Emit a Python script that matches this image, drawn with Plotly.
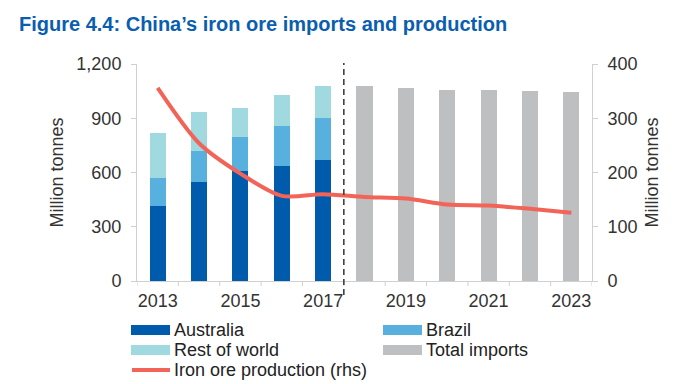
import plotly.graph_objects as go

years = [str(y) for y in range(2013, 2024)]
hist_years = years[:5]
fcst_years = years[5:]
australia = [414, 548, 609, 637, 669]
brazil = [156, 173, 188, 218, 230]
rest_of_world = [251, 213, 158, 172, 178]
total_imports = [1077, 1068, 1059, 1055, 1051, 1044]
production = [356, 254, 198, 157, 160, 155, 152, 141, 139, 133, 126]
left_ticks = [0, 300, 600, 900, 1200]
right_ticks = [0, 100, 200, 300, 400]
xtick_labels = ["2013", "2015", "2017", "2019", "2021", "2023"]

C_AUS = "#005BAC"
C_BRA = "#57B0DD"
C_ROW = "#A0D9E0"
C_TOT = "#BDBFC1"
C_PROD = "#F26457"

# page body has an 8px margin; work in screen pixels and offset
OFF = 8
SW, SH = 693, 384
W, H = SW - OFF, SH - OFF
PL, PR, PT, PB = 137, 592, 64, 281   # plot area in screen px
L, R, T, B = PL - OFF, W - (PR - OFF), PT - OFF, H - (PB - OFF)
PW, PH = W - L - R, H - T - B

def px_x(x):
    return (x - OFF - L) / PW

def px_y(y):
    return (H - B - (y - OFF)) / PH

FONT = "Liberation Sans, Arial, sans-serif"

fig = go.Figure()
bw = 0.39
fig.add_bar(x=hist_years, y=australia, name="Australia", marker_color=C_AUS, width=bw, showlegend=False)
fig.add_bar(x=hist_years, y=brazil, name="Brazil", marker_color=C_BRA, width=bw, showlegend=False)
fig.add_bar(x=hist_years, y=rest_of_world, name="Rest of world", marker_color=C_ROW, width=bw, showlegend=False)
fig.add_bar(x=fcst_years, y=total_imports, name="Total imports", marker_color=C_TOT, width=bw, showlegend=False)
fig.add_scatter(x=years, y=production, yaxis="y2", mode="lines", name="Iron ore production (rhs)",
                line=dict(color=C_PROD, width=4, shape="spline", smoothing=0.8), showlegend=False)

fig.update_traces(marker_line_width=0, selector=dict(type="bar"))

axis_col = "#D0D0D0"
tick_font = dict(family=FONT, size=18, color="#333333")

fig.update_layout(
    width=W, height=H,
    margin=dict(l=L, r=R, t=T, b=B),
    barmode="stack",
    plot_bgcolor="white", paper_bgcolor="white",
    title=dict(text="<b>Figure 4.4: China’s iron ore imports and production</b>",
               x=(19 - OFF) / W, xanchor="left", y=1 - (24 - OFF) / H, yanchor="middle",
               font=dict(family=FONT, size=20, color="#0A5EB0")),
    xaxis=dict(type="category", categoryorder="array", categoryarray=years,
               tickmode="array", tickvals=xtick_labels, ticktext=xtick_labels,
               showline=True, linecolor=axis_col, linewidth=1, showgrid=False,
               ticks="", tickfont=tick_font, ticklabelstandoff=3,
               range=[-0.5, 10.5]),
    yaxis=dict(range=[0, 1200], tickvals=left_ticks, tickformat=",",
               showline=True, linecolor=axis_col, linewidth=1, showgrid=False, zeroline=False,
               ticks="outside", ticklen=5, tickcolor=axis_col, tickfont=tick_font,
               ticklabelstandoff=6,
               title=dict(text="Million tonnes", font=tick_font, standoff=8)),
    yaxis2=dict(range=[0, 400], tickvals=right_ticks, overlaying="y", side="right",
                showline=True, linecolor=axis_col, linewidth=1, showgrid=False, zeroline=False,
                ticks="outside", ticklen=5, tickcolor=axis_col, tickfont=tick_font,
                ticklabelstandoff=6,
                title=dict(text="Million tonnes", font=tick_font, standoff=8)),
)

# x-axis tick marks at category boundaries
for i in range(len(years) + 1):
    fig.add_shape(type="line", xref="x", yref="paper", x0=i - 0.5, x1=i - 0.5,
                  y0=0, y1=px_y(PB + 5), line=dict(color=axis_col, width=1))

# forecast divider
fig.add_shape(type="line", xref="x", yref="paper", x0=4.5, x1=4.5,
              y0=px_y(295), y1=px_y(63), line=dict(color="#404040", width=1.6, dash="6px,4px"))

# legend
legend_items = [
    ("Australia", C_AUS, 131, 330, "bar"),
    ("Brazil", C_BRA, 383, 330, "bar"),
    ("Rest of world", C_ROW, 131, 350, "bar"),
    ("Total imports", C_TOT, 383, 350, "bar"),
    ("Iron ore production (rhs)", C_PROD, 131, 370, "line"),
]
for name, col, x0, yc, kind in legend_items:
    if kind == "bar":
        fig.add_shape(type="rect", xref="paper", yref="paper",
                      x0=px_x(x0), x1=px_x(x0 + 39), y0=px_y(yc + 5), y1=px_y(yc - 5),
                      fillcolor=col, line=dict(width=0))
    else:
        fig.add_shape(type="line", xref="paper", yref="paper",
                      x0=px_x(x0 + 1), x1=px_x(x0 + 39), y0=px_y(yc), y1=px_y(yc),
                      line=dict(color=col, width=4))
    fig.add_annotation(text=name, xref="paper", yref="paper", x=px_x(x0 + 41), y=px_y(yc),
                       xanchor="left", yanchor="middle", showarrow=False,
                       font=dict(family=FONT, size=18, color="#222222"))

fig.write_html("out.html")
